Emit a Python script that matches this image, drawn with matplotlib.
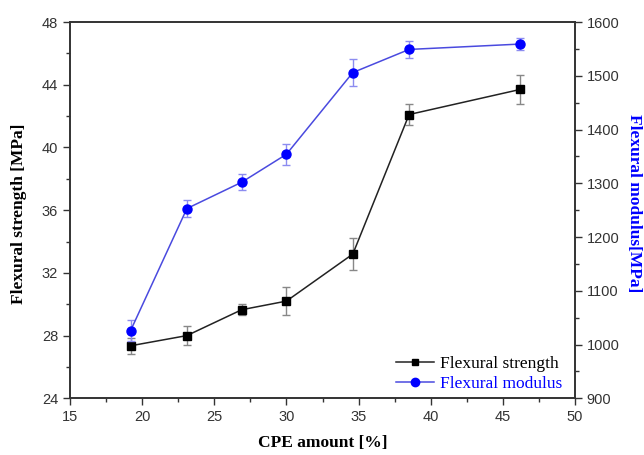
import matplotlib.pyplot as plt
from matplotlib.lines import Line2D
from matplotlib.ticker import MultipleLocator, AutoMinorLocator

# ---------------------------------------
# Data
# ---------------------------------------
cpe_amount = [19.2, 23.1, 26.9, 30.0, 34.6, 38.5, 46.2]
strength = [27.35, 28.0, 29.65, 30.2, 33.2, 42.1, 43.7]
strength_err = [0.5, 0.6, 0.35, 0.9, 1.0, 0.65, 0.9]
modulus = [1026, 1253, 1302, 1354, 1506, 1549, 1559]
modulus_err = [20, 16, 15, 20, 25, 16, 11]

serif = "Liberation Serif"
sans = "Liberation Sans"
blue_line = "#4a4adf"
blue = "#0000ff"

fig = plt.figure(figsize=(6.44, 4.55), dpi=100)
ax = fig.add_axes([0.1087, 0.1246, 0.7842, 0.827])
ax2 = ax.twinx()

# Flexural strength (left axis)
ax.errorbar(cpe_amount, strength, yerr=strength_err, color="#222222", lw=1.1,
            marker="s", ms=5.5, mfc="black", mec="black",
            ecolor="#888888", elinewidth=1.0, capsize=3, capthick=1.0,
            zorder=3)

# Flexural modulus (right axis)
ax2.errorbar(cpe_amount, modulus, yerr=modulus_err, color=blue_line, lw=1.1,
             marker="o", ms=6.5, mfc=blue, mec=blue,
             ecolor="#8c8cf0", elinewidth=1.0, capsize=3, capthick=1.0,
             zorder=3)

ax.set_xlim(15, 50)
ax.set_ylim(24, 48)
ax2.set_ylim(900, 1600)

ax.xaxis.set_major_locator(MultipleLocator(5))
ax.xaxis.set_minor_locator(AutoMinorLocator(2))
ax.yaxis.set_major_locator(MultipleLocator(4))
ax.yaxis.set_minor_locator(AutoMinorLocator(2))
ax2.yaxis.set_major_locator(MultipleLocator(100))
ax2.yaxis.set_minor_locator(AutoMinorLocator(2))

for a in (ax, ax2):
    a.tick_params(which="major", direction="out", length=5, width=1.0,
                  labelsize=10.5, colors="#333333")
    a.tick_params(which="minor", direction="out", length=3, width=1.0,
                  colors="#333333")
    for lab in a.get_xticklabels() + a.get_yticklabels():
        lab.set_fontfamily(sans)
    for sp in a.spines.values():
        sp.set_linewidth(1.2)
        sp.set_color("#333333")

ax.set_xlabel("CPE amount [%]", fontsize=12.5, fontweight="bold",
              family=serif, labelpad=8)
ax.set_ylabel("Flexural strength [MPa]", fontsize=12.5, fontweight="bold",
              family=serif)
ax.yaxis.set_label_coords(-0.085, 0.49)
ax2.set_ylabel("Flexural modulus[MPa]", fontsize=12.5, fontweight="bold",
               family=serif, color=blue, rotation=270, va="center")
ax2.yaxis.set_label_coords(1.117, 0.52)

handles = [
    Line2D([], [], color="#222222", lw=1.1, marker="s", ms=5, mfc="black", mec="black"),
    Line2D([], [], color=blue_line, lw=1.1, marker="o", ms=6, mfc=blue, mec=blue),
]
ax2.legend(handles, ["Flexural strength", "Flexural modulus"], loc="lower right",
           frameon=False, prop={"family": serif, "size": 12.5},
           bbox_to_anchor=(1.005, -0.025), handlelength=2.2,
           handletextpad=0.3, labelspacing=0.2,
           labelcolor=["black", blue])

plt.savefig("out.png", dpi=100)
